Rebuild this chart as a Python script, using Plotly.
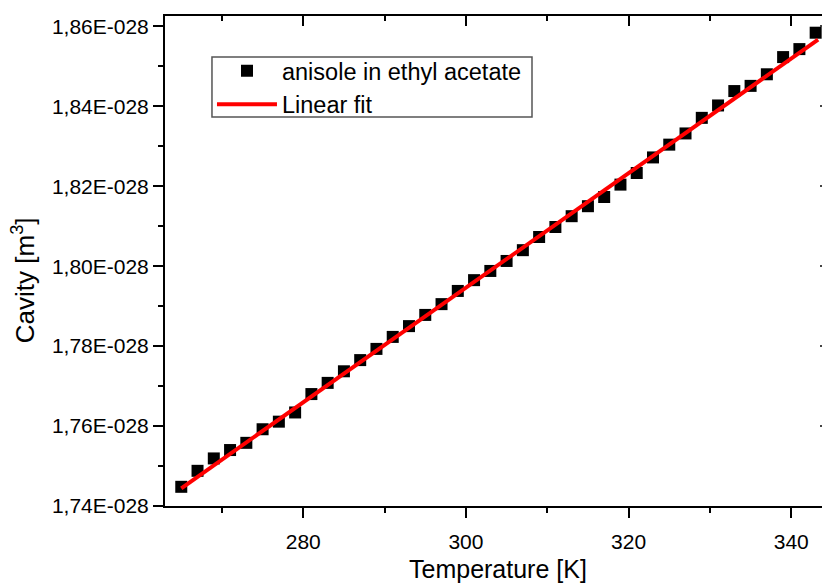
import plotly.graph_objects as go

# ---- data ----
temperature_K = [265, 267, 269, 271, 273, 275, 277, 279, 281, 283,
                 285, 287, 289, 291, 293, 295, 297, 299, 301, 303,
                 305, 307, 309, 311, 313, 315, 317, 319, 321, 323,
                 325, 327, 329, 331, 333, 335, 337, 339, 341, 343]
cavity_e28 = [1.7448, 1.7488, 1.7519, 1.7540, 1.7558, 1.7592, 1.7611, 1.7634, 1.7680, 1.7708,
              1.7737, 1.7765, 1.7793, 1.7823, 1.7850, 1.7878, 1.7905, 1.7938, 1.7965, 1.7988,
              1.8013, 1.8040, 1.8073, 1.8098, 1.8125, 1.8150, 1.8173, 1.8204, 1.8233, 1.8272,
              1.8304, 1.8332, 1.8371, 1.8402, 1.8438, 1.8451, 1.8480, 1.8523, 1.8543, 1.8584]
cavity_m3 = [v * 1e-28 for v in cavity_e28]

fit_T = [265.0, 343.3]
fit_cavity_m3 = [1.74443e-28, 1.85668e-28]

x_tick_vals = [280, 300, 320, 340]
y_tick_vals = [1.74e-28, 1.76e-28, 1.78e-28, 1.80e-28, 1.82e-28, 1.84e-28, 1.86e-28]
y_tick_text = ["1,74E-028", "1,76E-028", "1,78E-028", "1,80E-028", "1,82E-028", "1,84E-028", "1,86E-028"]

x_range = [263.0, 343.78]
y_range = [1.74e-28, 1.86258e-28]

FONT = "Liberation Sans, Arial, sans-serif"

fig = go.Figure()
fig.add_trace(go.Scatter(
    x=temperature_K, y=cavity_m3, mode="markers", name="anisole in ethyl acetate",
    marker=dict(symbol="square", size=12, color="black"),
))
fig.add_trace(go.Scatter(
    x=fit_T, y=fit_cavity_m3, mode="lines", name="Linear fit",
    line=dict(color="#ff0000", width=4),
))
# invisible helpers so the mirrored (top/right) axes are drawn
fig.add_trace(go.Scatter(x=temperature_K, y=cavity_m3, xaxis="x2", yaxis="y", mode="markers",
                         marker=dict(opacity=0), showlegend=False, hoverinfo="skip"))
fig.add_trace(go.Scatter(x=temperature_K, y=cavity_m3, xaxis="x", yaxis="y2", mode="markers",
                         marker=dict(opacity=0), showlegend=False, hoverinfo="skip"))

axis_common = dict(showgrid=False, zeroline=False, linecolor="black", tickcolor="black",
                   tickwidth=2, linewidth=2)

fig.update_layout(
    width=822, height=584,
    margin=dict(l=165, r=0, t=16, b=78),
    paper_bgcolor="white", plot_bgcolor="white",
    font=dict(family=FONT, color="black"),
    showlegend=True,
    legend=dict(x=0.0715, y=0.9327, xanchor="left", yanchor="top",
                borderwidth=0, bgcolor="rgba(0,0,0,0)", itemwidth=60,
                font=dict(size=23.5, family=FONT, color="black"), tracegroupgap=0),
    shapes=[dict(type="rect", xref="paper", yref="paper",
                 x0=0.0715, x1=0.5586, y0=0.7939, y1=0.9163,
                 line=dict(color="#555555", width=1.5), fillcolor="rgba(0,0,0,0)", layer="below")],
    xaxis=dict(range=x_range, tickmode="array", tickvals=x_tick_vals, ticks="outside",
               ticklen=10, showline=True, tickfont=dict(size=21), ticklabelstandoff=6,
               minor=dict(tick0=0, dtick=10, ticks="outside", ticklen=5, tickwidth=2, tickcolor="black"),
               **axis_common),
    xaxis2=dict(range=x_range, overlaying="x", side="top", tickmode="array", tickvals=x_tick_vals,
                ticks="inside", ticklen=10, showline=True, showticklabels=False,
                minor=dict(tick0=0, dtick=10, ticks="inside", ticklen=5, tickwidth=2, tickcolor="black"),
                **axis_common),
    yaxis=dict(range=y_range, tickmode="array", tickvals=y_tick_vals, ticktext=y_tick_text,
               ticks="outside", ticklen=10, showline=True, tickfont=dict(size=21),
               minor=dict(tick0=1.74e-28, dtick=1e-30, ticks="outside", ticklen=5, tickwidth=2, tickcolor="black"),
               **axis_common),
    yaxis2=dict(range=y_range, overlaying="y", side="right", tickmode="array", tickvals=y_tick_vals,
                ticks="inside", ticklen=2, showline=False, showticklabels=False,
                showgrid=False, zeroline=False, tickcolor="#444444", tickwidth=2),
    annotations=[
        dict(text="Temperature [K]", xref="paper", yref="paper", x=0.507, y=-0.1286,
             xanchor="center", yanchor="middle", showarrow=False,
             font=dict(size=25, family=FONT, color="black")),
        dict(text="Cavity [m<sup>3</sup>]", xref="paper", yref="paper", x=-0.216, y=0.461,
             xanchor="center", yanchor="middle", textangle=-90, showarrow=False,
             font=dict(size=26, family=FONT, color="black")),
    ],
)

fig.write_html("out.html")
